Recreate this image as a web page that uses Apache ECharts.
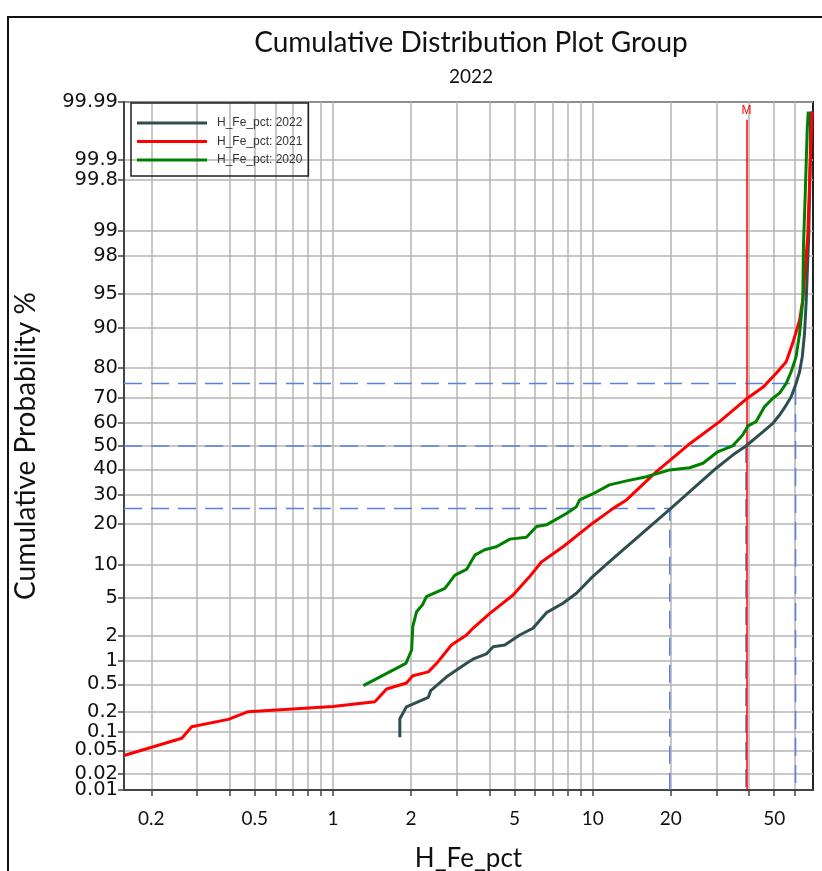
<!DOCTYPE html>
<html>
<head>
<meta charset="utf-8">
<script src="https://cdn.jsdelivr.net/npm/echarts@6/dist/echarts.min.js"></script>
<style>
  html, body { margin: 0; padding: 0; background: #fff; }
  #chart { width: 822px; height: 871px; }
</style>
</head>
<body>
<div id="chart"></div>
<script>
// series values: [H_Fe_pct, cumulative %]
const fe2022 = [[1.81,0.082],[1.81,0.16],[1.92,0.24],[2.33,0.33],[2.38,0.41],[2.74,0.63],[3.27,0.94],[3.46,1.06],[3.9,1.23],[4.14,1.5],[4.59,1.57],[5.24,2.05],[5.89,2.44],[6.64,3.58],[7.69,4.45],[8.66,5.57],[10.0,7.9],[12.0,11.2],[13.5,13.8],[16.6,19.2],[19.8,24.7],[24.0,31.7],[29.9,40.5],[34.6,46.1],[38.9,50.0],[45.2,56.1],[49.4,59.7],[52.4,63.1],[55.6,67.1],[58.1,70.3],[60.4,74.5],[62.6,78.9],[64.1,83.3],[65.4,88.8],[66.4,94.3],[67.9,98.87],[68.8,99.9],[69.0,99.985]];
const fe2021 = [[0.157,0.041],[0.262,0.079],[0.286,0.12],[0.396,0.156],[0.472,0.204],[1.0,0.242],[1.45,0.285],[1.61,0.43],[1.92,0.52],[2.03,0.65],[2.33,0.73],[2.51,0.94],[2.86,1.57],[3.27,2.05],[3.46,2.44],[4.02,3.52],[4.94,5.36],[5.72,7.9],[6.35,10.5],[7.69,13.8],[10.0,20.2],[12.0,25.0],[13.5,28.0],[17.6,39.1],[23.3,50.4],[30.8,60.4],[38.9,69.3],[45.2,73.7],[50.9,78.4],[55.6,81.9],[58.9,86.7],[62.6,91.3],[64.4,94.3],[67.3,98.87],[68.8,99.89],[70.0,99.985]];
const fe2020 = [[1.31,0.48],[1.91,0.94],[2.01,1.37],[2.03,2.54],[2.1,3.66],[2.21,4.28],[2.29,5.16],[2.7,6.2],[2.95,8.15],[3.27,9.1],[3.52,11.9],[3.84,13.1],[4.26,13.8],[4.8,15.7],[5.56,16.2],[6.08,19.2],[6.64,19.7],[7.92,23.3],[8.66,25.6],[8.91,28.0],[10.0,30.2],[11.6,33.7],[13.5,35.3],[16.1,37.0],[19.8,39.8],[23.6,40.7],[26.6,42.6],[30.3,47.5],[34.6,50.1],[37.8,54.7],[39.6,58.6],[42.6,60.4],[45.9,66.5],[49.4,69.7],[52.4,71.6],[55.6,75.1],[58.1,78.9],[60.7,83.3],[62.6,88.8],[64.4,94.3],[64.8,98.5],[65.8,99.67],[67.0,99.97],[67.6,99.985]];

const seriesNames = ['H_Fe_pct: 2022', 'H_Fe_pct: 2021', 'H_Fe_pct: 2020'];
const seriesColors = ['#2f4f4f', '#ff0000', '#008000'];

// percentiles of 2022 and mean marker
const pctLevels = [25, 50, 75];
const pctValues = [19.8, 38.9, 60.4];
const meanValue = 39.1;

// axis ranges and ticks
const xMin = 0.157, xMax = 70.5;
const yMin = 0.01, yMax = 99.99;
const xGrid = [0.2,0.3,0.4,0.5,0.6,0.7,0.8,0.9,1,2,3,4,5,6,7,8,9,10,20,30,40,50,60];
const xLabels = [0.2,0.5,1,2,5,10,20,50];
const yTicks = [0.01,0.02,0.05,0.1,0.2,0.5,1,2,5,10,20,30,40,50,60,70,80,90,95,98,99,99.8,99.9,99.99];

// inverse normal cdf (Acklam)
function probit(p) {
  const a = [-3.969683028665376e+01, 2.209460984245205e+02, -2.759285104469687e+02, 1.383577518672690e+02, -3.066479806614716e+01, 2.506628277459239e+00];
  const b = [-5.447609879822406e+01, 1.615858368580409e+02, -1.556989798598866e+02, 6.680131188771972e+01, -1.328068155288572e+01];
  const c = [-7.784894002430293e-03, -3.223964580411365e-01, -2.400758277161838e+00, -2.549671348620002e+00, 4.374664141464968e+00, 2.938163982698783e+00];
  const d = [7.784695709041462e-03, 3.224671290700398e-01, 2.445134137142996e+00, 3.754408661907416e+00];
  const pl = 0.02425;
  let q, r;
  if (p < pl) {
    q = Math.sqrt(-2 * Math.log(p));
    return (((((c[0]*q+c[1])*q+c[2])*q+c[3])*q+c[4])*q+c[5]) / ((((d[0]*q+d[1])*q+d[2])*q+d[3])*q+1);
  }
  if (p > 1 - pl) {
    q = Math.sqrt(-2 * Math.log(1 - p));
    return -(((((c[0]*q+c[1])*q+c[2])*q+c[3])*q+c[4])*q+c[5]) / ((((d[0]*q+d[1])*q+d[2])*q+d[3])*q+1);
  }
  q = p - 0.5; r = q * q;
  return (((((a[0]*r+a[1])*r+a[2])*r+a[3])*r+a[4])*r+a[5])*q / (((((b[0]*r+b[1])*r+b[2])*r+b[3])*r+b[4])*r+1);
}

const tx = v => Math.log10(v);
const ty = p => probit(p / 100);
const toPoint = d => [tx(d[0]), ty(d[1])];

function nearestLabel(list, mapped, v) {
  let best = 0;
  mapped.forEach((m, i) => { if (Math.abs(m - v) < Math.abs(mapped[best] - v)) best = i; });
  return String(list[best]);
}

const xLabelPos = xLabels.map(tx);
const yTickPos = yTicks.map(ty);

const chart = echarts.init(document.getElementById('chart'), null, { renderer: 'canvas' });

const refBlue = '#5b7fe3';
let series = [];

// dark grey line along 50%
series.push({
  type: 'line', silent: true, symbol: 'none', z: 1,
  data: [[pctValues[1], 50], [xMax, 50]].map(toPoint),
  lineStyle: { color: '#8a8a8a', width: 1.5 }
});

// percentile reference lines
pctLevels.forEach((lvl, i) => {
  series.push({
    type: 'line', silent: true, symbol: 'none', z: 2,
    data: [[xMin, lvl], [pctValues[i], lvl], [pctValues[i], yMin]].map(toPoint),
    lineStyle: { color: refBlue, width: 1.5, type: [18, 9] }
  });
});

// data curves
[fe2022, fe2021, fe2020].forEach((arr, i) => {
  series.push({
    name: seriesNames[i],
    type: 'line', symbol: 'none', z: 5,
    data: arr.map(toPoint),
    itemStyle: { color: seriesColors[i] },
    lineStyle: { color: seriesColors[i], width: 3 }
  });
});

// mean marker
series.push({
  type: 'line', silent: true, symbol: 'none', z: 6,
  data: [],
  markLine: {
    silent: true, symbol: ['none', 'none'], animation: false,
    lineStyle: { color: '#ff0000', width: 1.5, type: 'solid' },
    label: { show: true, formatter: 'M', position: 'end', color: '#ff0000', fontSize: 12, fontFamily: 'Liberation Sans', distance: 3 },
    data: [[{ coord: [tx(meanValue), ty(yMin)] }, { coord: [tx(meanValue), ty(99.979)] }]]
  }
});

const yLabelStyle = { fontFamily: 'DejaVu Sans', fontSize: 19.5, color: '#111', margin: 6 };

chart.setOption({
  animation: false,
  backgroundColor: '#fff',
  title: {
    text: 'Cumulative Distribution Plot Group',
    subtext: '2022',
    left: 466, top: 24, textAlign: 'center',
    itemGap: 10,
    textStyle: { fontFamily: 'Lato', fontSize: 28, fontWeight: 'normal', color: '#111' },
    subtextStyle: { fontFamily: 'Lato', fontSize: 19, color: '#111' }
  },
  legend: {
    data: seriesNames,
    orient: 'vertical',
    left: 131, top: 103,
    icon: 'rect', itemWidth: 70, itemHeight: 3, itemGap: 6.5,
    padding: [14, 6, 10, 6],
    borderColor: '#222', borderWidth: 1.5,
    selectedMode: false,
    textStyle: { fontFamily: 'Liberation Sans', fontSize: 12, color: '#333', lineHeight: 12, padding: [0, 0, 0, 5] }
  },
  grid: {
    left: 124, right: 9, top: 102, bottom: 81,
    outerBoundsMode: 'none',
    show: true, borderColor: '#222', borderWidth: 2
  },
  xAxis: {
    type: 'value', min: tx(xMin), max: tx(xMax),
    name: 'H_Fe_pct', nameLocation: 'middle', nameGap: 56,
    nameTextStyle: { fontFamily: 'Lato', fontSize: 26, color: '#111' },
    axisLine: { show: true, onZero: false, lineStyle: { color: '#444', width: 2 } },
    axisTick: { show: true, length: 6, customValues: xGrid.map(tx), lineStyle: { color: '#444', width: 1.5 } },
    axisLabel: {
      customValues: xLabelPos, margin: 19, hideOverlap: false,
      fontFamily: 'Lato', fontSize: 19, color: '#111',
      formatter: v => nearestLabel(xLabels, xLabelPos, v)
    },
    splitLine: { show: true, lineStyle: { color: '#b4b4b4', width: 1.5 } }
  },
  yAxis: [{
    type: 'value', min: ty(yMin), max: ty(yMax),
    name: 'Cumulative Probability %', nameLocation: 'middle', nameGap: 84, nameRotate: 90,
    nameTextStyle: { fontFamily: 'Lato', fontSize: 28, color: '#111' },
    axisLine: { show: true, onZero: false, lineStyle: { color: '#444', width: 2 } },
    axisTick: { show: true, length: 6, customValues: yTickPos, lineStyle: { color: '#444', width: 1.5 } },
    axisLabel: Object.assign({
      customValues: yTickPos.slice(1), hideOverlap: false, showMaxLabel: true,
      formatter: v => nearestLabel(yTicks, yTickPos, v)
    }, yLabelStyle),
    splitLine: { show: true, lineStyle: { color: '#b4b4b4', width: 1.5 } }
  }, {
    // separate axis only for the bottom label so it is not dropped next to 0.02
    type: 'value', min: ty(yMin), max: ty(yMax), position: 'left', offset: 0,
    axisLine: { show: false }, axisTick: { show: false }, splitLine: { show: false },
    axisLabel: Object.assign({
      customValues: [yTickPos[0]], showMinLabel: true,
      formatter: v => nearestLabel(yTicks, yTickPos, v)
    }, yLabelStyle)
  }],
  graphic: [{
    type: 'rect', silent: true, z: 100,
    shape: { x: 8, y: 17, width: 900, height: 900 },
    style: { fill: 'none', stroke: '#111', lineWidth: 2 }
  }],
  series: series
});
</script>
</body>
</html>
